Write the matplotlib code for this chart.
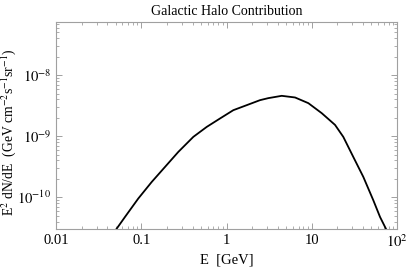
import matplotlib
matplotlib.use("Agg")
import matplotlib.pyplot as plt
import numpy as np
from matplotlib.ticker import LogLocator, FixedLocator, FixedFormatter, NullFormatter

plt.rcParams['font.family'] = ['Liberation Serif', 'DejaVu Serif']
plt.rcParams['mathtext.fontset'] = 'stix'

# Data (log10 values)
log_E = [-1.316, -1.191, -1.035, -0.877, -0.721, -0.565, -0.487, -0.389, -0.232,
         -0.076, 0.080, 0.237, 0.393, 0.490, 0.648, 0.804, 0.960, 1.117, 1.273,
         1.370, 1.487, 1.605, 1.722, 1.801, 1.879]
log_flux = [-10.569, -10.323, -10.021, -9.749, -9.503, -9.257, -9.148, -9.011, -8.848,
            -8.710, -8.574, -8.492, -8.410, -8.377, -8.339, -8.366, -8.459, -8.623, -8.815,
            -9.011, -9.339, -9.667, -10.049, -10.323, -10.541]

x_ticks = [0.01, 0.1, 1, 10, 100]
x_ticklabels = ['0.01', '0.1', '1', '10', r'$10^{2}$']
y_ticks = [1e-10, 1e-9, 1e-8]
y_ticklabels = [r'$10^{-10}$', r'$10^{-9}$', r'$10^{-8}$']

E = 10 ** np.array(log_E)
F = 10 ** np.array(log_flux)

fig = plt.figure(figsize=(4.07, 2.70), dpi=100)
ax = fig.add_axes([56/407, 1-229/270, (397-56)/407, (229-22)/270])
ax.plot(E, F, color='black', lw=1.3, solid_joinstyle='round')
ax.set_xscale('log')
ax.set_yscale('log')
ax.set_xlim(0.01, 100)
ax.set_ylim(10**-10.52, 10**-7.13)

ax.xaxis.set_major_locator(FixedLocator(x_ticks))
ax.xaxis.set_major_formatter(FixedFormatter(x_ticklabels))
ax.xaxis.set_minor_locator(LogLocator(base=10, subs=np.arange(2, 10)))
ax.xaxis.set_minor_formatter(NullFormatter())
ax.yaxis.set_major_locator(FixedLocator(y_ticks))
ax.yaxis.set_major_formatter(FixedFormatter(y_ticklabels))
ax.yaxis.set_minor_locator(LogLocator(base=10, subs=np.arange(2, 10)))
ax.yaxis.set_minor_formatter(NullFormatter())

for s in ax.spines.values():
    s.set_color('#a0a0a0')
    s.set_linewidth(0.8)
ax.tick_params(which='both', direction='in', top=True, right=True,
               colors='#a0a0a0', labelcolor='black', labelsize=10.5)
ax.tick_params(which='major', length=4, width=0.7)
ax.tick_params(which='minor', length=2, width=0.6)

ax.set_title('Galactic Halo Contribution', fontsize=10, pad=5)
ax.set_xlabel('E  [GeV]', fontsize=10.5, labelpad=2)
fig.text(9/407, 1-132/270, r'E$^{2}$ dN/dE  (GeV cm$^{-2}$s$^{-1}$sr$^{-1}$)',
         fontsize=9.8, rotation=90, ha='center', va='center')

fig.savefig('out.png', dpi=100)
